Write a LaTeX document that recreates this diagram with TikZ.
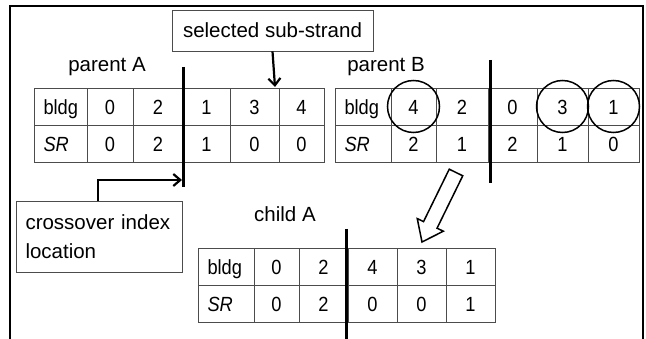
\documentclass[tikz,border=0pt]{standalone}
\usepackage{fontspec}
\setmainfont{Liberation Sans}
\newfontfamily\cellfont[FakeStretch=0.89]{Liberation Sans}
\usetikzlibrary{arrows.meta}
\begin{document}
\begin{tikzpicture}[x=1pt,y=-1pt,
  cell/.style={draw=black!70, line width=0.8pt, inner sep=0pt,
    minimum height=37, text height=15.5, text depth=0pt,
    font=\cellfont\fontsize{20.5}{22}\selectfont},
  headcell/.style={cell, align=left, inner xsep=9.5pt},
  lbl/.style={font=\fontsize{20.5}{24}\selectfont, inner sep=0pt, anchor=base},
  textbox/.style={draw=black!70, line width=0.8pt, font=\fontsize{20.5}{29}\selectfont},
  ring/.style={draw, circle, line width=1.5pt, minimum size=52pt, inner sep=0pt},
  cutline/.style={line width=3pt},
  arr/.style={line width=2.2pt, -{Straight Barb[length=7pt,width=12pt]}},
  frameline/.style={line width=2pt},
  blockarrow/.style={draw, fill=white, line width=1.5pt, line join=miter}]
\useasboundingbox (0,0) rectangle (646,339);

% open frame around the figure
\draw[frameline] (10,339) -- (10,6) -- (643,6) -- (643,339);

% parent A
\node[lbl] (labA) at (107,72) {parent A};
\node[headcell, minimum width=53, text width=34] (A-1-1) at (60.5,106.5) {bldg};
\node[headcell, minimum width=53, text width=34] (A-1-2) at (60.5,143.5) {\textit{SR}};
\foreach \l/\r/\u/\v [count=\i from 2] in {87/133/0/0, 133/183/2/2, 183/230/1/1, 230/279/3/0, 279/324/4/0}{
  \node[cell, minimum width={\r-\l}] (A-\i-1) at ({(\l+\r)/2},106.5) {\u};
  \node[cell, minimum width={\r-\l}] (A-\i-2) at ({(\l+\r)/2},143.5) {\v};
}

% parent B
\node[lbl] (labB) at (386,72) {parent B};
\node[headcell, minimum width=56, text width=37] (B-1-1) at (363,106.5) {bldg};
\node[headcell, minimum width=56, text width=37] (B-1-2) at (363,143.5) {\textit{SR}};
\foreach \l/\r/\u/\v [count=\i from 2] in {391/436/4/2, 436/488/2/1, 488/537/0/2, 537/588/3/1, 588/639/1/0}{
  \node[cell, minimum width={\r-\l}] (B-\i-1) at ({(\l+\r)/2},106.5) {\u};
  \node[cell, minimum width={\r-\l}] (B-\i-2) at ({(\l+\r)/2},143.5) {\v};
}

% child A
\node[lbl] (labC) at (285,222) {child A};
\node[headcell, minimum width=56, text width=37] (C-1-1) at (226,266.5) {bldg};
\node[headcell, minimum width=56, text width=37] (C-1-2) at (226,303.5) {\textit{SR}};
\foreach \l/\r/\u/\v [count=\i from 2] in {254/299/0/0, 299/348/2/2, 348/397/4/0, 397/446/3/0, 446/495/1/1}{
  \node[cell, minimum width={\r-\l}] (C-\i-1) at ({(\l+\r)/2},266.5) {\u};
  \node[cell, minimum width={\r-\l}] (C-\i-2) at ({(\l+\r)/2},303.5) {\v};
}

% crossover cut lines
\coordinate (cutA-top) at (183,67);
\coordinate (cutA-bot) at (183,187);
\coordinate (cutB-top) at (490,60);
\coordinate (cutB-bot) at (490,183);
\coordinate (cutC-top) at (346,229);
\coordinate (cutC-bot) at (346,339);
\draw[cutline] (cutA-top) -- (cutA-bot);
\draw[cutline] (cutB-top) -- (cutB-bot);
\draw[cutline] (cutC-top) -- (cutC-bot);

% genes taken from parent B
\node[ring] (ring4) at (B-2-1) {};
\node[ring] (ring3) at (B-5-1) {};
\node[ring] (ring1) at (B-6-1) {};

% callout boxes
\node[textbox, minimum width=201, minimum height=41, inner sep=0pt] (sel) at (272.5,30.5) {selected sub-strand};
\node[textbox, minimum width=166, minimum height=71, inner xsep=9.5pt, text width=147, align=left] (xo) at (99,236.5) {crossover index\\location};

\coordinate (selTip) at (275,87);
\draw[arr] (sel.south) -- (selTip);

\coordinate (xoBend) at (98,180);
\coordinate (xoTip) at (182,180);
\draw[arr] (xo.north -| xoBend) -- (xoBend) -- (xoTip);

% hollow arrow from parent B down to child A
\draw[blockarrow] (449.25,169.2) -- (462.75,175.8) -- (437.05,228.2) -- (443.35,231.2)
  -- (422,242) -- (417.25,218.6) -- (423.55,221.6) -- cycle;
\end{tikzpicture}
\end{document}
